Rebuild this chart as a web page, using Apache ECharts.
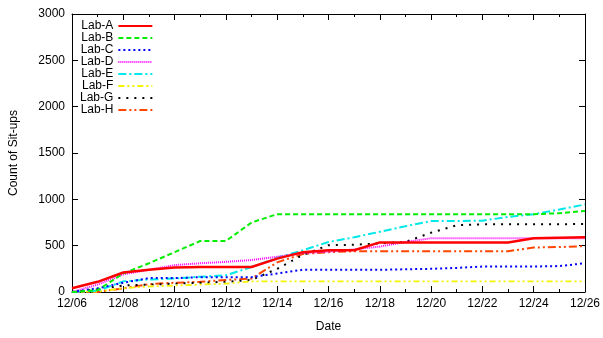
<!DOCTYPE html>
<html>
<head>
<meta charset="utf-8">
<script src="https://cdn.jsdelivr.net/npm/echarts@6/dist/echarts.min.js"></script>
<style>html,body{margin:0;padding:0;background:#fff}#c{width:603px;height:338px}</style>
</head>
<body>
<div id="c"></div>
<script>
const dates = ['12/06','12/07','12/08','12/09','12/10','12/11','12/12','12/13','12/14','12/15','12/16','12/17','12/18','12/19','12/20','12/21','12/22','12/23','12/24','12/25','12/26'];
const labNames = ['Lab-A','Lab-B','Lab-C','Lab-D','Lab-E','Lab-F','Lab-G','Lab-H'];
const labA = [40,110,210,240,265,270,270,270,360,430,450,450,535,535,535,535,535,535,580,585,590];
const labB = [0,20,200,310,430,550,550,750,840,840,840,840,840,840,840,840,840,840,840,850,875];
const labC = [0,40,100,150,150,160,160,160,200,240,240,240,240,245,250,260,275,275,275,280,310];
const labD = [0,80,190,240,290,310,325,345,380,420,435,460,490,540,580,580,580,580,580,580,580];
const labE = [0,15,115,135,145,165,180,270,370,450,540,590,650,710,765,765,770,810,840,890,945];
const labF = [0,5,40,60,70,80,90,115,115,115,115,115,115,115,115,115,115,115,115,115,115];
const labG = [0,30,70,80,90,100,110,130,250,400,505,510,525,540,640,720,730,730,730,730,735];
const labH = [0,0,40,85,100,110,130,145,320,410,430,440,440,440,440,440,440,440,480,485,495];
const yTicks = [0,500,1000,1500,2000,2500,3000];

const seriesValues = [labA,labB,labC,labD,labE,labF,labG,labH];
const styles = [
  {color:'#ff0000', width:2.5, type:'solid'},
  {color:'#00ee00', width:2, type:[5,3]},
  {color:'#0000ff', width:2, type:[2,3]},
  {color:'#ff00ff', width:2, type:[1,1]},
  {color:'#00e8e8', width:2, type:[8,3,2,3]},
  {color:'#f4f400', width:1.8, type:[6,3,2,3,2,3]},
  {color:'#000000', width:2, type:[2,6]},
  {color:'#ff4500', width:2, type:[8,3,2,3,2,3]}
];

const chart = echarts.init(document.getElementById('c'), null, {renderer:'canvas'});
const font = 'Liberation Sans, Arial, sans-serif';
const axisCommon = {
  axisLine:{show:true, onZero:false, lineStyle:{color:'#000', width:1}},
  splitLine:{show:false},
  minorSplitLine:{show:false}
};
chart.setOption({
  animation:false,
  backgroundColor:'#fff',
  grid:{left:69, right:14, top:14, bottom:37},
  legend:{
    data:labNames, orient:'vertical', left:80, top:20, align:'right',
    itemWidth:34, itemHeight:8, itemGap:0, padding:0,
    itemStyle:{opacity:0},
    textStyle:{fontFamily:font, fontSize:12, color:'#000', lineHeight:8}
  },
  xAxis:[
    Object.assign({}, axisCommon, {
      type:'value', min:0, max:dates.length-1, interval:2,
      name:'Date', nameLocation:'middle', nameGap:29,
      nameTextStyle:{fontFamily:font, fontSize:12, color:'#000'},
      axisTick:{show:true, inside:true, length:6, lineStyle:{color:'#000'}},
      minorTick:{show:true, splitNumber:2, length:3, lineStyle:{color:'#000'}},
      axisLabel:{fontFamily:font, fontSize:12, color:'#000', margin:6,
        formatter:(v)=>dates[Math.round(v)] || ''}
    }),
    Object.assign({}, axisCommon, {
      type:'value', min:0, max:dates.length-1, interval:2, position:'top',
      axisTick:{show:true, inside:true, length:6, lineStyle:{color:'#000'}},
      minorTick:{show:true, splitNumber:2, length:3, lineStyle:{color:'#000'}},
      axisLabel:{show:false}
    })
  ],
  yAxis:[
    Object.assign({}, axisCommon, {
      type:'value', min:yTicks[0], max:yTicks[yTicks.length-1], interval:500,
      name:'Count of Sit-ups', nameLocation:'middle', nameGap:52, nameRotate:90,
      nameTextStyle:{fontFamily:font, fontSize:12, color:'#000'},
      axisTick:{show:true, inside:true, length:6, lineStyle:{color:'#000'}},
      axisLabel:{fontFamily:font, fontSize:12, color:'#000', margin:7,
        formatter:(v)=>String(v)}
    }),
    Object.assign({}, axisCommon, {
      type:'value', min:yTicks[0], max:yTicks[yTicks.length-1], interval:500, position:'right',
      axisTick:{show:true, inside:true, length:6, lineStyle:{color:'#000'}},
      axisLabel:{show:false}
    })
  ],
  series: labNames.map((n,k)=>({
    name:n, type:'line', symbol:'none', xAxisIndex:0, yAxisIndex:0,
    data: seriesValues[k].map((v,i)=>[i,v]),
    lineStyle:{color:styles[k].color, width:styles[k].width, type:styles[k].type},
    itemStyle:{color:styles[k].color},
    z: 10-k
  }))
});
</script>
</body>
</html>
